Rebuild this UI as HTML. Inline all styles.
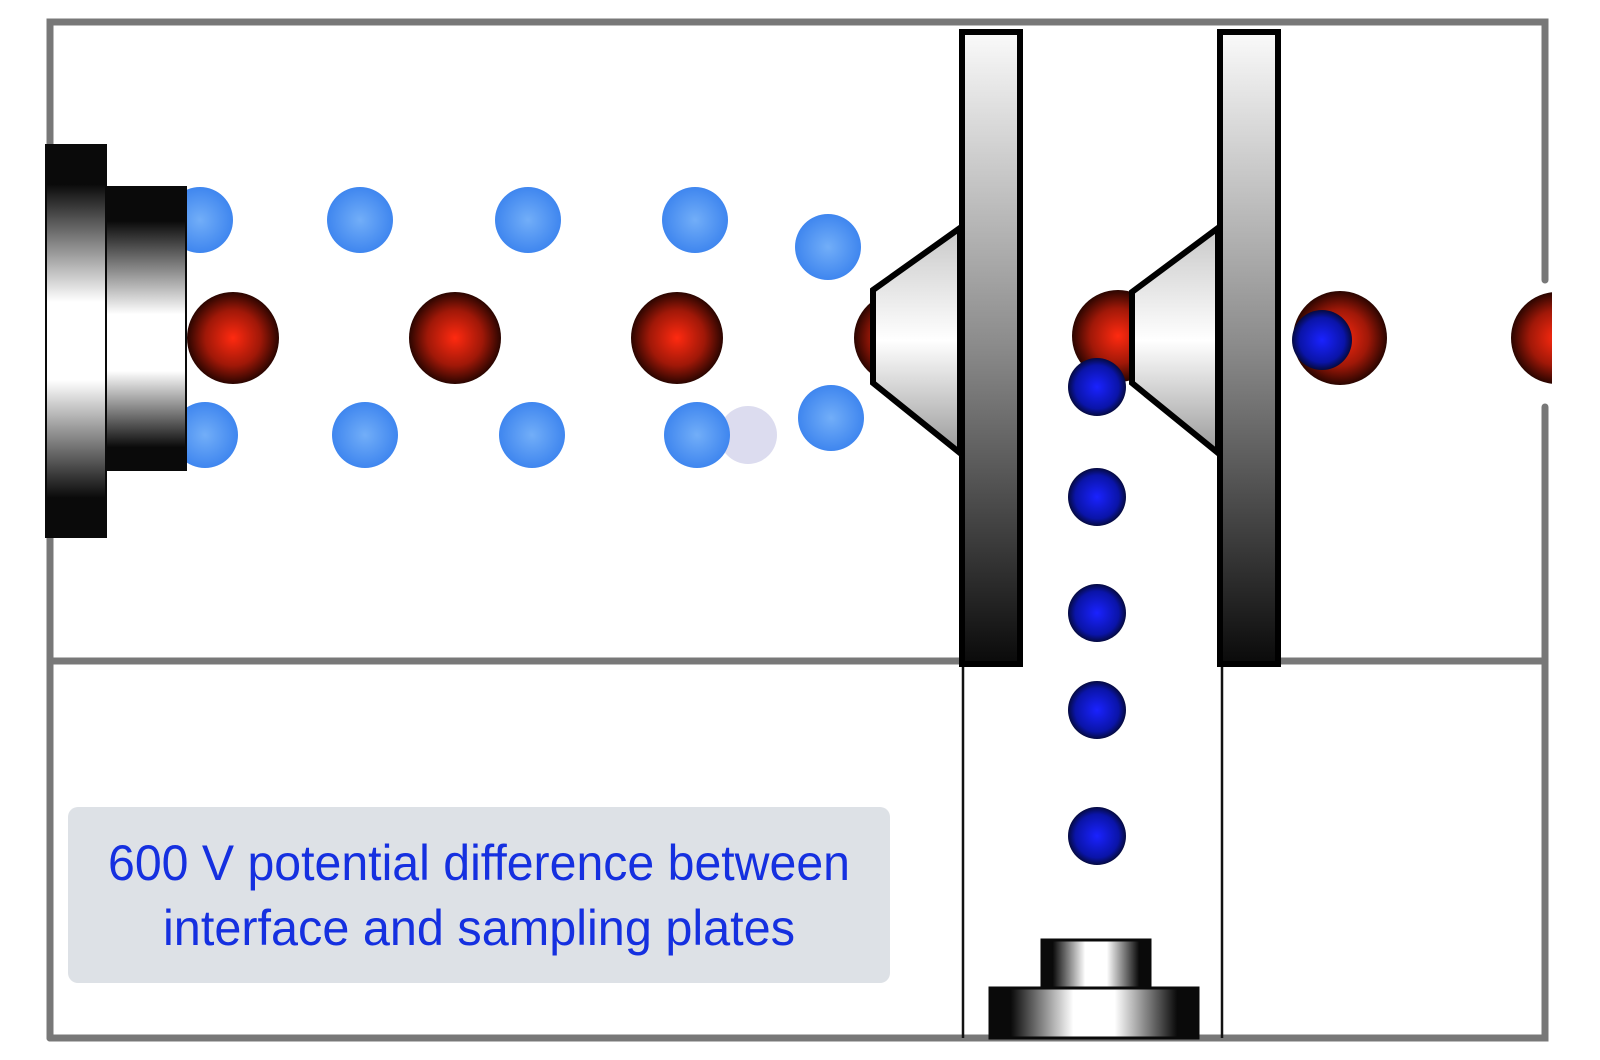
<!DOCTYPE html>
<html><head><meta charset="utf-8"><style>html,body{margin:0;padding:0;background:#fff}svg{display:block}</style></head>
<body>
<svg width="1600" height="1060" viewBox="0 0 1600 1060" xmlns="http://www.w3.org/2000/svg">
<defs>
<radialGradient id="red" cx="50%" cy="50%" r="50%"><stop offset="0" stop-color="#ff2a10"/><stop offset="0.6" stop-color="#a01808"/><stop offset="1" stop-color="#2a0500"/></radialGradient>
<radialGradient id="lb" cx="50%" cy="50%" r="50%"><stop offset="0" stop-color="#72aef8"/><stop offset="1" stop-color="#3f86ef"/></radialGradient>
<radialGradient id="db" cx="50%" cy="50%" r="50%"><stop offset="0" stop-color="#1a22ff"/><stop offset="0.75" stop-color="#0a14a8"/><stop offset="1" stop-color="#050a40"/></radialGradient>
<linearGradient id="plate" x1="0" y1="0" x2="0" y2="1"><stop offset="0" stop-color="#fafafa"/><stop offset="0.5" stop-color="#8a8a8a"/><stop offset="1" stop-color="#0a0a0a"/></linearGradient>
<linearGradient id="cone" x1="0" y1="0" x2="0" y2="1"><stop offset="0" stop-color="#c8c8c8"/><stop offset="0.5" stop-color="#ffffff"/><stop offset="1" stop-color="#999"/></linearGradient>
<linearGradient id="outer" x1="0" y1="0" x2="0" y2="1"><stop offset="0" stop-color="#0a0a0a"/><stop offset="0.1" stop-color="#0a0a0a"/><stop offset="0.4" stop-color="#fff"/><stop offset="0.6" stop-color="#fff"/><stop offset="0.9" stop-color="#0a0a0a"/><stop offset="1" stop-color="#0a0a0a"/></linearGradient>
<linearGradient id="inner" x1="0" y1="0" x2="0" y2="1"><stop offset="0" stop-color="#0a0a0a"/><stop offset="0.12" stop-color="#0a0a0a"/><stop offset="0.45" stop-color="#fff"/><stop offset="0.65" stop-color="#fff"/><stop offset="0.92" stop-color="#0a0a0a"/><stop offset="1" stop-color="#0a0a0a"/></linearGradient>
<linearGradient id="det" x1="0" y1="0" x2="1" y2="0"><stop offset="0" stop-color="#0a0a0a"/><stop offset="0.1" stop-color="#0a0a0a"/><stop offset="0.4" stop-color="#fff"/><stop offset="0.6" stop-color="#fff"/><stop offset="0.9" stop-color="#0a0a0a"/><stop offset="1" stop-color="#0a0a0a"/></linearGradient>
<clipPath id="clipR"><rect x="0" y="0" width="1552" height="1060"/></clipPath>
</defs>

<!-- frame -->
<g stroke="#787878" stroke-width="7" fill="none" stroke-linecap="round">
<path d="M50 1038 L50 22 L1545 22 L1545 280"/>
<path d="M1545 407 L1545 1038 L50 1038"/>
<line x1="50" y1="661" x2="962" y2="661"/>
<line x1="1280" y1="661" x2="1545" y2="661"/>
</g>
<line x1="963" y1="661" x2="963" y2="1038" stroke="#111" stroke-width="2.5"/>
<line x1="1222" y1="661" x2="1222" y2="1038" stroke="#111" stroke-width="2.5"/>

<!-- light blue balls -->
<g fill="url(#lb)">
<circle cx="200" cy="220" r="33"/><circle cx="360" cy="220" r="33"/><circle cx="528" cy="220" r="33"/><circle cx="695" cy="220" r="33"/><circle cx="828" cy="247" r="33"/>
<circle cx="205" cy="435" r="33"/><circle cx="365" cy="435" r="33"/><circle cx="532" cy="435" r="33"/>
</g>
<circle cx="748" cy="435" r="29" fill="#d6d6ec" opacity="0.85"/>
<g fill="url(#lb)"><circle cx="697" cy="435" r="33"/><circle cx="831" cy="418" r="33"/></g>

<!-- red balls -->
<g fill="url(#red)">
<circle cx="233" cy="338" r="46"/><circle cx="455" cy="338" r="46"/><circle cx="677" cy="338" r="46"/>
<circle cx="900" cy="338" r="46"/><circle cx="1118" cy="336" r="46"/><circle cx="1340" cy="338" r="47"/>
<circle cx="1557" cy="338" r="46" clip-path="url(#clipR)"/>
</g>
<circle cx="1322" cy="340" r="30" fill="url(#db)"/>

<!-- left source -->
<rect x="46" y="145" width="60" height="392" fill="url(#outer)" stroke="#0a0a0a" stroke-width="2"/>
<rect x="106" y="187" width="80" height="283" fill="url(#inner)" stroke="#0a0a0a" stroke-width="2"/>

<!-- cones and plates -->
<polygon points="873,290 960,228 960,453 873,383" fill="url(#cone)" stroke="#000" stroke-width="6" stroke-linejoin="miter"/>
<rect x="962" y="32" width="58" height="632" fill="url(#plate)" stroke="#000" stroke-width="6"/>
<polygon points="1132,292 1218,228 1218,453 1132,383" fill="url(#cone)" stroke="#000" stroke-width="6"/>
<rect x="1220" y="32" width="58" height="632" fill="url(#plate)" stroke="#000" stroke-width="6"/>

<!-- vertical dark blue balls -->
<g fill="url(#db)">
<circle cx="1097" cy="387" r="29"/><circle cx="1097" cy="497" r="29"/><circle cx="1097" cy="613" r="29"/><circle cx="1097" cy="710" r="29"/><circle cx="1097" cy="836" r="29"/>
</g>

<!-- detector -->
<rect x="1042" y="940" width="108" height="48" fill="url(#det)" stroke="#0a0a0a" stroke-width="3"/>
<rect x="990" y="988" width="208" height="50" fill="url(#det)" stroke="#0a0a0a" stroke-width="3"/>

<!-- label -->
<rect x="68" y="807" width="822" height="176" rx="10" fill="#dde1e6"/>
<g font-family="'Liberation Sans Narrow','Liberation Sans',sans-serif" font-size="50" fill="#1530e0" text-anchor="middle">
<text x="479" y="880" textLength="742" lengthAdjust="spacingAndGlyphs">600 V potential difference between</text>
<text x="479" y="945" textLength="632" lengthAdjust="spacingAndGlyphs">interface and sampling plates</text>
</g>
</svg>
</body></html>
